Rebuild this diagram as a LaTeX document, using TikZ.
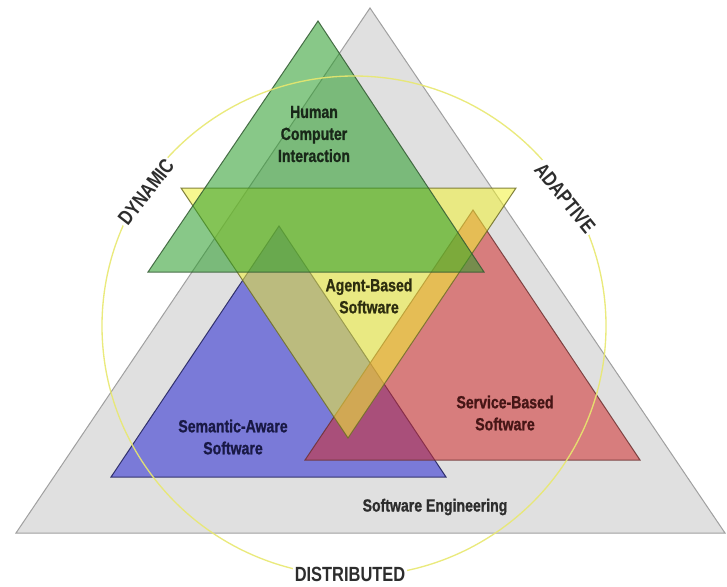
\documentclass[tikz,border=0pt]{standalone}
\usepackage{fontspec}
\newfontfamily\lblfont[FakeStretch=0.8,FakeBold=1]{Liberation Sans Bold}
\newfontfamily\outfont[FakeStretch=0.8]{Liberation Sans Bold}
\definecolor{grayF}{RGB}{224,224,224}
\definecolor{grayE}{RGB}{160,160,160}
\definecolor{greenF}{RGB}{39,155,39}
\definecolor{greenE}{RGB}{50,90,50}
\definecolor{yellowF}{RGB}{242,242,53}
\definecolor{yellowE}{RGB}{110,110,40}
\definecolor{blueF}{RGB}{40,40,210}
\definecolor{blueE}{RGB}{30,30,90}
\definecolor{redF}{RGB}{209,45,45}
\definecolor{redE}{RGB}{110,50,50}
\definecolor{ringC}{RGB}{232,232,110}
\definecolor{txtG}{RGB}{25,40,25}
\definecolor{txtY}{RGB}{45,45,15}
\definecolor{txtB}{RGB}{25,25,70}
\definecolor{txtR}{RGB}{70,22,22}
\definecolor{txtK}{RGB}{45,45,45}
\definecolor{outK}{RGB}{45,45,45}
\begin{document}
\begin{tikzpicture}[x=0.75pt,y=-0.75pt,
  tri/.style={fill opacity=0.55, draw opacity=0.85, line width=0.75pt, line join=miter},
  lbl/.style={font=\lblfont\fontsize{13.2pt}{16.5pt}\selectfont, align=center, inner sep=0pt},
  outlbl/.style={font=\outfont\fontsize{15.4pt}{18pt}\selectfont, text=outK, fill=white, inner sep=1.5pt}]
\useasboundingbox (0,0) rectangle (727,586);
\fill[white] (0,0) rectangle (727,586);
% software engineering (gray)
\filldraw[fill=grayF, draw=grayE, line width=0.75pt] (370,8) -- (16,533) -- (725,533) -- cycle;
% semantic-aware (blue)
\filldraw[tri, fill=blueF, draw=blueE] (279,226) -- (111,477) -- (446,477) -- cycle;
% service-based (red)
\filldraw[tri, fill=redF, draw=redE] (473,210) -- (305,460) -- (640,460) -- cycle;
% agent-based (yellow, inverted)
\filldraw[tri, fill=yellowF, draw=yellowE] (181,188) -- (516,188) -- (348,438) -- cycle;
% HCI (green)
\filldraw[tri, fill=greenF, draw=greenE] (318,21) -- (148,272) -- (484,272) -- cycle;
% ring
\draw[ringC, line width=1pt, draw opacity=0.9] (354,326) ellipse [x radius=252, y radius=250];
% labels
\node[lbl, text=txtG] (hci) at (314,134) {Human\\Computer\\Interaction};
\node[lbl, text=txtY] (agent) at (369,296) {Agent-Based\\Software};
\node[lbl, text=txtB] (sem) at (233,437) {Semantic-Aware\\Software};
\node[lbl, text=txtR] (serv) at (505,413) {Service-Based\\Software};
\node[lbl, text=txtK] (se) at (435,507) {Software Engineering};
\node[outlbl, rotate=52] (dyn) at (146,192) {DYNAMIC};
\node[outlbl, rotate=-51] (ada) at (565,198) {ADAPTIVE};
\node[outlbl] (dist) at (350,574) {DISTRIBUTED};
\end{tikzpicture}
\end{document}
